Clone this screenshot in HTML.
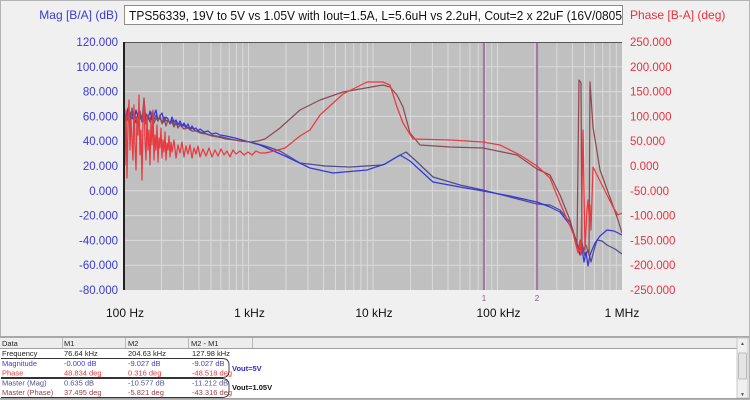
<!DOCTYPE html>
<html><head><meta charset="utf-8">
<style>
html,body{margin:0;padding:0;background:#f0f0f0;}
svg{display:block;}
text{font-family:"Liberation Sans",Arial,sans-serif;}
</style></head>
<body>
<svg width="750" height="400" viewBox="0 0 750 400" xmlns="http://www.w3.org/2000/svg">
<rect x="0" y="0" width="750" height="400" fill="#f0f0f0"/>
<rect x="0.5" y="0.5" width="749" height="399" fill="none" stroke="#b4b4b4"/>

<!-- title box -->
<rect x="124.5" y="5.5" width="498" height="19" fill="#ffffff" stroke="#8c8c8c"/>
<clipPath id="tc"><rect x="125" y="6" width="497" height="18"/></clipPath>
<text x="129" y="20" font-size="12.5" fill="#111" clip-path="url(#tc)" textLength="497" lengthAdjust="spacingAndGlyphs">TPS56339, 19V to 5V vs 1.05V with Iout=1.5A, L=5.6uH vs 2.2uH, Cout=2 x 22uF (16V/0805)</text>
<text x="118" y="19" font-size="12" fill="#3a3ad2" text-anchor="end">Mag [B/A] (dB)</text>
<text x="630" y="19" font-size="12" fill="#e8313f">Phase [B-A] (deg)</text>

<!-- plot area -->
<rect x="124" y="42" width="498" height="248" fill="#c0c0c0"/>
<g stroke="#dadada" stroke-width="1">
<path d="M161.5 42V290M183.4 42V290M199 42V290M211 42V290M220.9 42V290M229.2 42V290M236.4 42V290M242.8 42V290M248.5 42V290
M286 42V290M307.9 42V290M323.5 42V290M335.5 42V290M345.4 42V290M353.7 42V290M360.9 42V290M367.3 42V290M373 42V290
M410.5 42V290M432.4 42V290M448 42V290M460 42V290M469.9 42V290M478.2 42V290M485.4 42V290M491.8 42V290M497.5 42V290
M535 42V290M556.9 42V290M572.5 42V290M584.5 42V290M594.4 42V290M602.7 42V290M609.9 42V290M616.3 42V290"/>
<path d="M124 66.8H622M124 91.6H622M124 116.4H622M124 141.2H622M124 166H622M124 190.8H622M124 215.6H622M124 240.4H622M124 265.2H622"/>
</g>
<line x1="124" y1="42.5" x2="622" y2="42.5" stroke="#555" stroke-width="1"/>
<line x1="124" y1="42" x2="124" y2="290" stroke="#222" stroke-width="2"/>

<!-- markers -->
<g stroke="#a07aa0" stroke-width="2.2">
<line x1="484" y1="43" x2="484" y2="290"/>
<line x1="537" y1="43" x2="537" y2="290"/>
</g>
<text x="484" y="301" font-size="8" fill="#8a5a8a" text-anchor="middle">1</text>
<text x="537" y="301" font-size="8" fill="#8a5a8a" text-anchor="middle">2</text>

<clipPath id="pc"><rect x="125" y="42" width="497" height="248"/></clipPath>
<g clip-path="url(#pc)" fill="none" stroke-linejoin="round" stroke-width="1.25">
<!-- master mag (dark blue) -->
<polyline stroke="#4d4d8c" points="124,118 126,114 128,121 130,112 132,119 134,116 136,123 138,113 140,119 142,116 144,121 146,114 148,117 150,122 152,116 154,119 156,115 158,120 160,118 162,123 164,117 166,121 168,120 170,123 172,120 174,125 176,122 178,124 180,124 182,127 184,125 186,128 188,127 190,130 192,128 196,131 200,132 204,133 210,135 216,136 222,137 230,139 240,141 250,142 265,146 280,151 300,163 325,166 350,167 383,165 395,158 406,152 415,160 433,177 460,185 483,190 510,197 537,204 550,205 560,210 570,222 576,240 579,250 582,243 585,256 588,250 591,262 594,250 597,240 602,241 607,245 615,249 622,254"/>
<!-- 5V mag (blue) -->
<polyline stroke="#3636e0" points="124,112 126,120 128,108 130,118 132,113 134,121 136,110 138,117 140,114 142,122 144,109 146,116 148,119 150,111 152,120 154,115 156,110 158,121 160,116 162,113 164,122 166,117 168,119 170,124 172,117 174,122 176,120 178,125 180,121 182,126 184,123 186,127 188,124 190,129 192,126 194,129 196,128 198,131 200,129 204,132 208,131 212,134 216,133 220,135 226,136 235,138 260,145 285,156 310,168 333,173 367,170 385,164 400,155 410,161 433,182 460,187 483,191 510,196 537,202 550,207 560,212 570,225 575,238 578,247 580,255 582,248 584,262 586,252 588,266 590,255 592,250 595,243 600,236 607,230 614,231 622,235"/>
<!-- master phase (dark red) -->
<polyline stroke="#8e4a52" points="124,115 126,122 128,112 130,125 132,108 134,120 136,117 138,126 140,111 142,121 144,98 146,124 148,115 150,120 152,112 154,123 156,118 158,121 160,115 162,124 164,119 166,126 168,120 170,124 172,122 174,127 176,123 178,128 180,125 184,129 188,128 192,131 196,131 200,133 206,134 212,136 218,137 226,139 234,140 242,141 250,142 258,141 265,139 280,128 300,110 320,100 343,92 383,85 390,87 397,95 403,107 410,133 420,145 450,147 483,148 517,155 537,169 550,175 560,195 570,220 577,245 579,80 581,83 582,253 586,245 589,255 590,82 593,127 600,170 612,203 618,220 622,233"/>
<!-- 5V phase (red) -->
<polyline stroke="#e83a40" points="124,130 125,165 126,110 127,178 128,125 129,100 130,150 131,120 132,140 133,160 134,105 135,145 136,170 137,118 138,135 139,95 140,155 141,130 142,180 143,122 144,100 145,140 146,160 147,115 148,150 149,130 150,165 151,120 152,145 153,110 154,160 155,135 156,150 157,125 158,162 159,138 160,148 161,128 162,158 163,140 164,152 165,132 166,160 167,143 168,150 169,136 170,157 171,142 172,152 174,140 176,158 178,145 180,153 182,142 184,157 186,146 188,154 190,145 192,158 194,148 196,154 198,146 200,157 203,149 206,156 209,148 212,157 215,150 218,156 221,149 224,155 227,151 230,157 233,150 236,154 240,151 244,155 248,152 252,155 256,151 260,153 265,153 270,152 285,148 300,136 310,130 320,115 343,94 367,82 383,82 390,85 397,107 403,123 413,139 450,140 483,142 500,145 520,155 537,166 550,178 560,203 573,233 578,253 580,240 581,255 583,130 585,250 587,210 588,200 589,215 590,205 591,230 593,167 603,187 613,207 618,215 622,213"/>
</g>

<!-- left axis labels -->
<g font-size="11.5" fill="#3a3ad2" text-anchor="end">
<text x="118" y="46">120.000</text>
<text x="118" y="70.8">100.000</text>
<text x="118" y="95.6">80.000</text>
<text x="118" y="120.4">60.000</text>
<text x="118" y="145.2">40.000</text>
<text x="118" y="170">20.000</text>
<text x="118" y="194.8">0.000</text>
<text x="118" y="219.6">-20.000</text>
<text x="118" y="244.4">-40.000</text>
<text x="118" y="269.2">-60.000</text>
<text x="118" y="294">-80.000</text>
</g>
<!-- right axis labels -->
<g font-size="11.5" fill="#e8313f">
<text x="630" y="46">250.000</text>
<text x="630" y="70.8">200.000</text>
<text x="630" y="95.6">150.000</text>
<text x="630" y="120.4">100.000</text>
<text x="630" y="145.2">50.000</text>
<text x="630" y="170">0.000</text>
<text x="630" y="194.8">-50.000</text>
<text x="630" y="219.6">-100.000</text>
<text x="630" y="244.4">-150.000</text>
<text x="630" y="269.2">-200.000</text>
<text x="630" y="294">-250.000</text>
</g>
<!-- x labels -->
<g font-size="12" fill="#111" text-anchor="middle">
<text x="125" y="317">100 Hz</text>
<text x="249.5" y="317">1 kHz</text>
<text x="374" y="317">10 kHz</text>
<text x="498.5" y="317">100 kHz</text>
<text x="622" y="317">1 MHz</text>
</g>

<!-- table -->
<rect x="0" y="336" width="750" height="2" fill="#a8a8a8"/>
<rect x="0" y="338" width="737" height="10" fill="#ededed"/>
<line x1="0" y1="348.5" x2="737" y2="348.5" stroke="#a0a0a0"/>
<rect x="0" y="349" width="737" height="49" fill="#ffffff"/>
<g stroke="#b8b8b8">
<line x1="62.5" y1="338" x2="62.5" y2="348"/>
<line x1="125.5" y1="338" x2="125.5" y2="348"/>
<line x1="188.5" y1="338" x2="188.5" y2="348"/>
<line x1="252.5" y1="338" x2="252.5" y2="348"/>
</g>
<!-- scrollbar -->
<rect x="737" y="338" width="11" height="60" fill="#f0f0f0" stroke="#c8c8c8"/>
<rect x="738.5" y="353" width="8" height="26" fill="#e4e4e4" stroke="#bbb" rx="1"/>
<text x="742.5" y="345" font-size="5" fill="#555" text-anchor="middle">▲</text>
<text x="742.5" y="396" font-size="5" fill="#555" text-anchor="middle">▼</text>
<line x1="0" y1="398.5" x2="750" y2="398.5" stroke="#a0a0a0"/>

<g font-size="7.5">
<text x="2" y="346" fill="#222">Data</text>
<text x="64" y="346" fill="#222">M1</text>
<text x="128" y="346" fill="#222">M2</text>
<text x="191" y="346" fill="#222">M2 - M1</text>

<text x="2" y="356" fill="#222">Frequency</text>
<text x="64" y="356" fill="#222">76.64 kHz</text>
<text x="128" y="356" fill="#222">204.63 kHz</text>
<text x="192" y="356" fill="#222">127.98 kHz</text>

<g fill="#4040d8">
<text x="2" y="366">Magnitude</text>
<text x="64" y="366">-0.000 dB</text>
<text x="128" y="366">-9.027 dB</text>
<text x="192" y="366">-9.027 dB</text>
</g>
<g fill="#e83a3a">
<text x="2" y="375.5">Phase</text>
<text x="64" y="375.5">48.834 deg</text>
<text x="128" y="375.5">0.316 deg</text>
<text x="192" y="375.5">-48.518 deg</text>
</g>
<g fill="#50508c">
<text x="2" y="385.5">Master (Mag)</text>
<text x="64" y="385.5">0.635 dB</text>
<text x="128" y="385.5">-10.577 dB</text>
<text x="192" y="385.5">-11.212 dB</text>
</g>
<g fill="#a04048">
<text x="2" y="395">Master (Phase)</text>
<text x="64" y="395">37.495 deg</text>
<text x="128" y="395">-5.821 deg</text>
<text x="192" y="395">-43.316 deg</text>
</g>
</g>
<!-- hand drawn boxes -->
<g fill="none" stroke="#333" stroke-width="0.9">
<path d="M1 358.5 H222 Q229 358.5 229 365 V371 Q229 377.5 222 377.5 H1"/>
<path d="M1 378.5 H222 Q229 378.5 229 385 V391 Q229 397.5 222 397.5 H1"/>
</g>
<text x="232" y="371" font-size="7.5" font-weight="bold" fill="#2c2cd0">Vout=5V</text>
<text x="232" y="390" font-size="7.5" font-weight="bold" fill="#111">Vout=1.05V</text>
</svg>
</body></html>
